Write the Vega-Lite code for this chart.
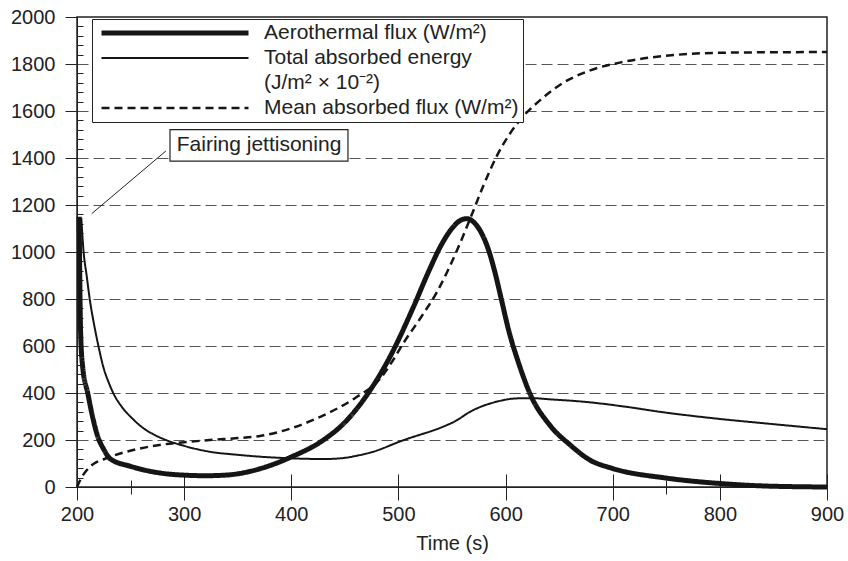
{
  "$schema": "https://vega.github.io/schema/vega-lite/v6.json",
  "width": 750,
  "height": 470,
  "autosize": {"type": "none"},
  "padding": {"left": 77, "top": 17, "right": 21, "bottom": 74},
  "background": "white",
  "config": {
    "font": "Liberation Sans",
    "view": {"stroke": "#222", "strokeWidth": 1.5},
    "axis": {"labelFont": "Liberation Sans", "titleFont": "Liberation Sans", "labelColor": "#222", "titleColor": "#222", "domainColor": "#222", "tickColor": "#222", "labelFontSize": 20, "titleFontSize": 20, "titleFontWeight": "normal"}
  },
  "datasets": {
    "curves": [
      {"t": 202, "v": 1150, "s": "A"}, {"t": 203.4, "v": 653, "s": "A"}, {"t": 205.3, "v": 511, "s": "A"}, {"t": 210, "v": 400, "s": "A"}, {"t": 214, "v": 310, "s": "A"}, {"t": 219, "v": 220, "s": "A"}, {"t": 225, "v": 160, "s": "A"}, {"t": 231, "v": 120, "s": "A"}, {"t": 250, "v": 88, "s": "A"}, {"t": 262, "v": 73, "s": "A"}, {"t": 280, "v": 58, "s": "A"}, {"t": 302, "v": 50, "s": "A"}, {"t": 320, "v": 48, "s": "A"}, {"t": 340, "v": 51, "s": "A"}, {"t": 371, "v": 78, "s": "A"}, {"t": 400, "v": 128, "s": "A"}, {"t": 430, "v": 200, "s": "A"}, {"t": 450, "v": 275, "s": "A"}, {"t": 473.5, "v": 411, "s": "A"}, {"t": 492, "v": 553, "s": "A"}, {"t": 514, "v": 766, "s": "A"}, {"t": 528, "v": 915, "s": "A"}, {"t": 540, "v": 1030, "s": "A"}, {"t": 551, "v": 1106, "s": "A"}, {"t": 558, "v": 1135, "s": "A"}, {"t": 564, "v": 1142, "s": "A"}, {"t": 570, "v": 1128, "s": "A"}, {"t": 577, "v": 1085, "s": "A"}, {"t": 584, "v": 1010, "s": "A"}, {"t": 590, "v": 915, "s": "A"}, {"t": 596, "v": 800, "s": "A"}, {"t": 603, "v": 665, "s": "A"}, {"t": 612, "v": 530, "s": "A"}, {"t": 622.8, "v": 397, "s": "A"}, {"t": 641.5, "v": 262, "s": "A"}, {"t": 660, "v": 180, "s": "A"}, {"t": 679, "v": 114, "s": "A"}, {"t": 699, "v": 80, "s": "A"}, {"t": 750, "v": 38, "s": "A"}, {"t": 800, "v": 15, "s": "A"}, {"t": 844, "v": 4, "s": "A"}, {"t": 900, "v": 0, "s": "A"},
      {"t": 204, "v": 1145, "s": "B"}, {"t": 206, "v": 1008, "s": "B"}, {"t": 209, "v": 900, "s": "B"}, {"t": 212, "v": 796, "s": "B"}, {"t": 216, "v": 690, "s": "B"}, {"t": 220, "v": 600, "s": "B"}, {"t": 224.5, "v": 512, "s": "B"}, {"t": 230, "v": 440, "s": "B"}, {"t": 234, "v": 398, "s": "B"}, {"t": 242, "v": 340, "s": "B"}, {"t": 252, "v": 290, "s": "B"}, {"t": 262, "v": 250, "s": "B"}, {"t": 271, "v": 225, "s": "B"}, {"t": 283, "v": 200, "s": "B"}, {"t": 300, "v": 175, "s": "B"}, {"t": 324, "v": 150, "s": "B"}, {"t": 350, "v": 137, "s": "B"}, {"t": 371, "v": 129, "s": "B"}, {"t": 400, "v": 122, "s": "B"}, {"t": 430, "v": 119, "s": "B"}, {"t": 450, "v": 124, "s": "B"}, {"t": 460, "v": 132, "s": "B"}, {"t": 473.5, "v": 146, "s": "B"}, {"t": 504.6, "v": 199, "s": "B"}, {"t": 545, "v": 263, "s": "B"}, {"t": 553, "v": 280, "s": "B"}, {"t": 566.8, "v": 320, "s": "B"}, {"t": 591.7, "v": 363, "s": "B"}, {"t": 610.4, "v": 377, "s": "B"}, {"t": 625, "v": 378, "s": "B"}, {"t": 641.5, "v": 373, "s": "B"}, {"t": 672.6, "v": 363, "s": "B"}, {"t": 713, "v": 341, "s": "B"}, {"t": 744, "v": 320, "s": "B"}, {"t": 797, "v": 291, "s": "B"}, {"t": 844, "v": 270, "s": "B"}, {"t": 900, "v": 246, "s": "B"},
      {"t": 200, "v": 0, "s": "C"}, {"t": 203, "v": 30, "s": "C"}, {"t": 209, "v": 71, "s": "C"}, {"t": 216, "v": 100, "s": "C"}, {"t": 224.5, "v": 117, "s": "C"}, {"t": 235, "v": 135, "s": "C"}, {"t": 246, "v": 150, "s": "C"}, {"t": 260, "v": 165, "s": "C"}, {"t": 277, "v": 179, "s": "C"}, {"t": 300, "v": 190, "s": "C"}, {"t": 324, "v": 200, "s": "C"}, {"t": 350, "v": 208, "s": "C"}, {"t": 371, "v": 217, "s": "C"}, {"t": 400, "v": 250, "s": "C"}, {"t": 430, "v": 305, "s": "C"}, {"t": 460, "v": 380, "s": "C"}, {"t": 482.8, "v": 460, "s": "C"}, {"t": 495, "v": 540, "s": "C"}, {"t": 505, "v": 615, "s": "C"}, {"t": 520, "v": 715, "s": "C"}, {"t": 536, "v": 830, "s": "C"}, {"t": 554, "v": 1000, "s": "C"}, {"t": 566.8, "v": 1140, "s": "C"}, {"t": 580, "v": 1290, "s": "C"}, {"t": 592, "v": 1410, "s": "C"}, {"t": 605, "v": 1510, "s": "C"}, {"t": 618, "v": 1585, "s": "C"}, {"t": 632, "v": 1645, "s": "C"}, {"t": 651, "v": 1712, "s": "C"}, {"t": 679, "v": 1773, "s": "C"}, {"t": 710, "v": 1809, "s": "C"}, {"t": 757, "v": 1838, "s": "C"}, {"t": 803, "v": 1848, "s": "C"}, {"t": 900, "v": 1851, "s": "C"}
    ]
  },
  "resolve": {"axis": {"x": "independent", "y": "independent"}},
  "layer": [
    {
      "data": {"name": "curves"},
      "mark": {"type": "line", "interpolate": "monotone", "color": "#151515", "strokeCap": "butt"},
      "encoding": {
        "x": {
          "field": "t", "type": "quantitative",
          "scale": {"domain": [200, 900], "nice": false, "zero": false},
          "axis": {
            "orient": "bottom", "title": "Time (s)", "grid": false, "format": "d",
            "values": [200, 250, 300, 400, 500, 600, 700, 750, 800, 900],
            "tickSize": {"condition": {"test": "datum.value % 100 === 0", "value": 13}, "value": 7},
            "labelExpr": "datum.value % 100 === 0 ? datum.label : ''",
            "labelPadding": 4, "titlePadding": 9, "labelFlush": false, "labelOverlap": false
          }
        },
        "y": {
          "field": "v", "type": "quantitative",
          "scale": {"domain": [0, 2000], "nice": false},
          "axis": {
            "orient": "left", "title": null, "format": "d",
            "values": [0, 40, 80, 120, 160, 200, 240, 280, 320, 360, 400, 440, 480, 520, 560, 600, 640, 680, 720, 760, 800, 840, 880, 920, 960, 1000, 1040, 1080, 1120, 1160, 1200, 1240, 1280, 1320, 1360, 1400, 1440, 1480, 1520, 1560, 1600, 1640, 1680, 1720, 1760, 1800, 1840, 1880, 1920, 1960, 2000],
            "tickSize": {"condition": {"test": "datum.value % 200 === 0", "value": 12}, "value": -6},
            "labelExpr": "datum.value % 200 === 0 ? datum.label : ''",
            "labelPadding": 10, "labelOverlap": false, "labelFlush": false,
            "grid": true, "gridDash": [11, 5], "gridColor": "#555", "gridWidth": 1,
            "gridOpacity": {"condition": {"test": "datum.value % 200 === 0 && datum.value > 0 && datum.value < 2000", "value": 1}, "value": 0}
          }
        },
        "strokeWidth": {
          "field": "s", "type": "ordinal",
          "scale": {"type": "ordinal", "domain": ["A", "B", "B2", "C"], "range": [5, 2, 0, 2.5]},
          "legend": {
            "orient": "none", "legendX": 15, "legendY": 2, "title": null,
            "symbolType": "stroke", "symbolSize": 21609, "symbolStrokeColor": "#151515", "symbolOffset": 3,
            "clipHeight": 20, "rowPadding": 4, "padding": 4,
            "labelFontSize": 21, "labelColor": "#222", "labelFont": "Liberation Sans", "labelOffset": 13, "labelLimit": 500,
            "strokeColor": "#222", "fillColor": "white",
            "labelExpr": "datum.value === 'A' ? 'Aerothermal flux (W/m²)' : datum.value === 'B' ? 'Total absorbed energy' : datum.value === 'B2' ? '(J/m² × 10⁻²)' : 'Mean absorbed flux (W/m²)'"
          }
        },
        "strokeDash": {
          "field": "s", "type": "ordinal",
          "scale": {"type": "ordinal", "domain": ["A", "B", "B2", "C"], "range": [[1, 0], [1, 0], [1, 0], [8, 5]]},
          "legend": {
            "orient": "none", "legendX": 15, "legendY": 2, "title": null,
            "symbolType": "stroke", "symbolSize": 21609, "symbolStrokeColor": "#151515", "symbolOffset": 3,
            "clipHeight": 20, "rowPadding": 4, "padding": 4,
            "labelFontSize": 21, "labelColor": "#222", "labelFont": "Liberation Sans", "labelOffset": 13, "labelLimit": 500,
            "strokeColor": "#222", "fillColor": "white",
            "labelExpr": "datum.value === 'A' ? 'Aerothermal flux (W/m²)' : datum.value === 'B' ? 'Total absorbed energy' : datum.value === 'B2' ? '(J/m² × 10⁻²)' : 'Mean absorbed flux (W/m²)'"
          }
        }
      }
    },
    {
      "data": {"name": "curves"},
      "mark": {"type": "line", "opacity": 0},
      "encoding": {
        "x": {
          "field": "t", "type": "quantitative",
          "scale": {"domain": [200, 900], "nice": false, "zero": false},
          "axis": {
            "orient": "bottom", "title": null, "grid": false, "labels": false, "domain": false,
            "values": [200, 250, 300, 400, 500, 600, 700, 750, 800, 900],
            "tickSize": {"condition": {"test": "datum.value % 100 === 0", "value": -13}, "value": -7}
          }
        },
        "y": {"field": "v", "type": "quantitative", "scale": {"domain": [0, 2000], "nice": false}, "axis": null}
      }
    },
    {
      "data": {"values": [{"t": 283, "v": 1430, "t2": 213.7, "v2": 1163}]},
      "mark": {"type": "rule", "color": "#222", "strokeWidth": 1},
      "encoding": {
        "x": {"field": "t", "type": "quantitative", "scale": {"domain": [200, 900], "nice": false, "zero": false}, "axis": null},
        "x2": {"field": "t2"},
        "y": {"field": "v", "type": "quantitative", "scale": {"domain": [0, 2000], "nice": false}, "axis": null},
        "y2": {"field": "v2"}
      }
    },
    {
      "data": {"values": [{"t": 286.8, "t2": 452.9, "v": 1521, "v2": 1387}]},
      "mark": {"type": "rect", "fill": "white", "stroke": "#222", "strokeWidth": 1.2},
      "encoding": {
        "x": {"field": "t", "type": "quantitative", "scale": {"domain": [200, 900], "nice": false, "zero": false}, "axis": null},
        "x2": {"field": "t2"},
        "y": {"field": "v", "type": "quantitative", "scale": {"domain": [0, 2000], "nice": false}, "axis": null},
        "y2": {"field": "v2"}
      }
    },
    {
      "data": {"values": [{"t": 369.9, "v": 1454, "label": "Fairing jettisoning"}]},
      "mark": {"type": "text", "font": "Liberation Sans", "fontSize": 21, "color": "#222", "align": "center", "baseline": "middle"},
      "encoding": {
        "x": {"field": "t", "type": "quantitative", "scale": {"domain": [200, 900], "nice": false, "zero": false}, "axis": null},
        "y": {"field": "v", "type": "quantitative", "scale": {"domain": [0, 2000], "nice": false}, "axis": null},
        "text": {"field": "label"}
      }
    }
  ]
}
